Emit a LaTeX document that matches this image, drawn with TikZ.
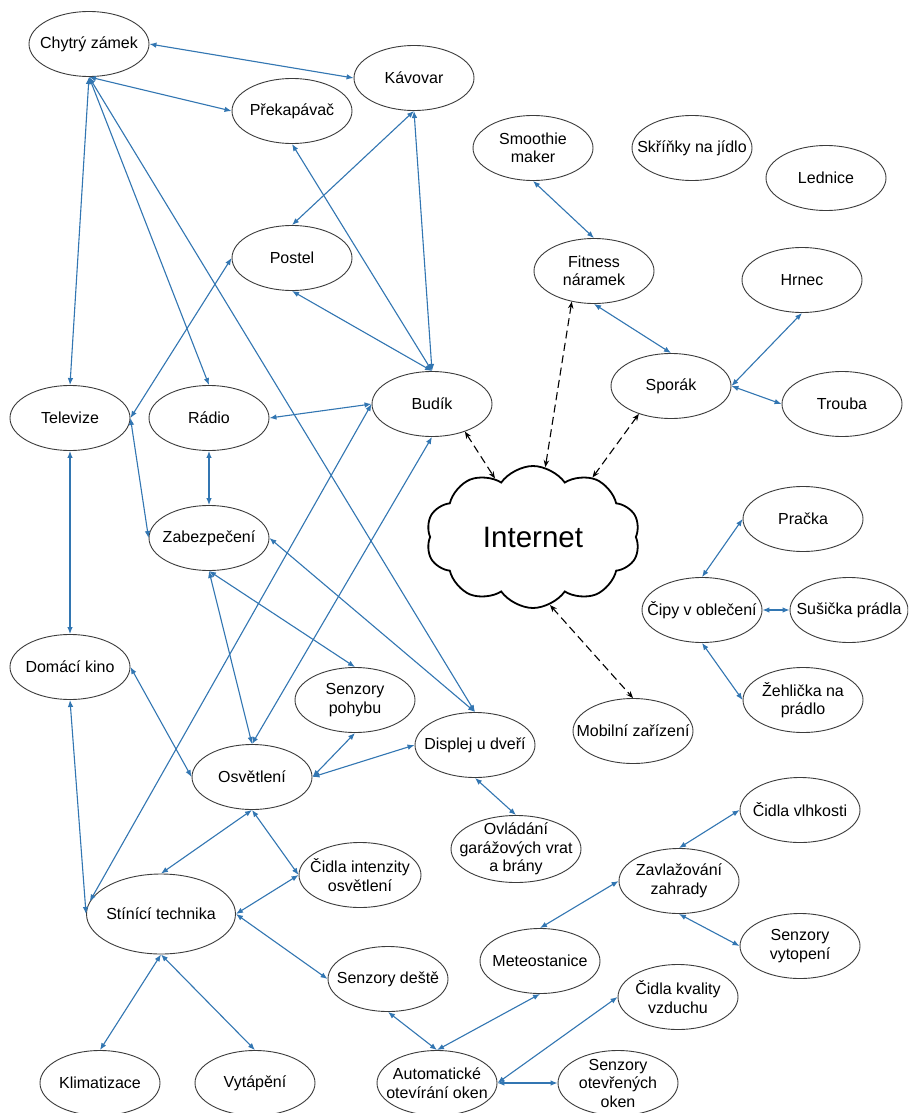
\documentclass[tikz,border=0pt]{standalone}
\usepackage{fontspec}
\setmainfont{Liberation Sans}
\usetikzlibrary{shapes.geometric,shapes.symbols,arrows.meta}
\definecolor{edgeblue}{RGB}{50,118,178}
\definecolor{rim}{RGB}{60,60,60}
\newcommand\lbf{\fontsize{16}{18.5}\selectfont}
\begin{document}
\begin{tikzpicture}[x=1pt,y=-1pt,
  dev/.style={ellipse, draw=rim, line width=0.9pt, minimum width=120pt, minimum height=65pt, inner sep=0pt},
  lab/.style={align=center, inner sep=0pt, font=\lbf},
  con/.style={draw=edgeblue, line width=1.1pt, {Latex[length=7pt,width=5.5pt]}-{Latex[length=7pt,width=5.5pt]}},
  net/.style={draw=black, line width=1.1pt, dash pattern=on 8pt off 4.5pt, {Stealth[length=7pt,width=5.5pt]}-{Stealth[length=7pt,width=5.5pt]}}]
\useasboundingbox (0,0) rectangle (908,1113);
\clip (0,0) rectangle (908,1113);
\fill[white] (0,0) rectangle (908,1113);

% nodes
\node[dev, label={[lab]center:{Chytrý zámek}}] (chz) at (89,44) {};
\node[dev, label={[lab]center:{Kávovar}}] (kav) at (414,78) {};
\node[dev, label={[lab]center:{Překapávač}}] (prek) at (292,111) {};
\node[dev, label={[lab]center:{Postel}}] (post) at (292,258) {};
\node[dev, label={[lab]center:{Televize}}] (tv) at (70,418) {};
\node[dev, label={[lab]center:{Rádio}}] (rad) at (209,418) {};
\node[dev, label={[lab]center:{Budík}}] (bud) at (432,404) {};
\node[dev, label={[lab]center:{Zabezpečení}}] (zab) at (209,538) {};
\node[dev, label={[lab]center:{Domácí kino}}] (dk) at (70,667) {};
\node[dev, label={[lab]center:{Senzory\\pohybu}}] (sp) at (355,700) {};
\node[dev, label={[lab]center:{Osvětlení}}] (osv) at (252,777) {};
\node[dev, label={[lab]center:{Displej u dveří}}] (disp) at (475,745) {};
\node[dev, minimum width=130pt, minimum height=67pt, label={[lab]center:{Ovládání\\garážových vrat\\a brány}}] (ovl) at (516,849) {};
\node[dev, minimum width=122pt, label={[lab]center:{Čidla intenzity\\osvětlení}}] (cid) at (360,875) {};
\node[dev, minimum width=149pt, minimum height=80pt, label={[lab]center:{Stínící technika}}] (sti) at (161,914) {};
\node[dev, label={[lab]center:{Senzory deště}}] (sd) at (388,979) {};
\node[dev, label={[lab]center:{Meteostanice}}] (met) at (540,961) {};
\node[dev, label={[lab]center:{Klimatizace}}] (kli) at (100,1083) {};
\node[dev, label={[lab]center:{Vytápění}}] (vyt) at (255,1083) {};
\node[dev, label={[lab]center:{Automatické\\otevírání oken}}] (aut) at (437,1083) {};
\node[dev, label={[lab]center:{Senzory\\otevřených\\oken}}] (sook) at (618,1083) {};
\node[dev, label={[lab]center:{Čidla kvality\\vzduchu}}] (kval) at (678,997) {};
\node[dev, label={[lab]center:{Zavlažování\\zahrady}}] (zav) at (679,881) {};
\node[dev, label={[lab]center:{Senzory\\vytopení}}] (vyto) at (800,946) {};
\node[dev, label={[lab]center:{Čidla vlhkosti}}] (vlh) at (800,810) {};
\node[dev, label={[lab]center:{Smoothie\\maker}}] (smo) at (533,148) {};
\node[dev, label={[lab]center:{Skříňky na jídlo}}] (skr) at (692,148) {};
\node[dev, label={[lab]center:{Lednice}}] (led) at (826,178) {};
\node[dev, label={[lab]center:{Fitness\\náramek}}] (fit) at (594,271) {};
\node[dev, label={[lab]center:{Hrnec}}] (hrn) at (802,280) {};
\node[dev, label={[lab]center:{Sporák}}] (spo) at (671,386) {};
\node[dev, label={[lab]center:{Trouba}}] (tro) at (842,404) {};
\node[dev, label={[lab]center:{Pračka}}] (pra) at (803,519) {};
\node[dev, label={[lab]center:{Čipy v oblečení}}] (cip) at (702,610) {};
\node[dev, minimum width=118pt, label={[lab]center:{Sušička prádla}}] (sus) at (849,610) {};
\node[dev, label={[lab]center:{Žehlička na\\prádlo}}] (zeh) at (803,700) {};
\node[dev, label={[lab]center:{Mobilní zařízení}}] (mob) at (633,731) {};
\node[cloud, cloud puffs=10, cloud puff arc=110, aspect=1.5, draw=black, line width=1.8pt,
      minimum width=214pt, minimum height=142pt, inner sep=0pt,
      label={[inner sep=0pt, font=\fontsize{29.5}{32}\selectfont]center:{Internet}}] (inet) at (533,537) {};

% blue connectors
\draw[con] (chz.east) -- (kav.west);
\draw[con] (chz.south) -- (prek.west);
\draw[con] (chz.south) -- (tv.north);
\draw[con] (chz.south) -- (rad.north);
\draw[con] (chz.south) -- (disp.north);
\draw[con] (kav.south) -- (post.north);
\draw[con] (kav.south) -- (bud.north);
\draw[con] (prek.south) -- (bud.north);
\draw[con] (post.south) -- (bud.north);
\draw[con] (post.west) -- (tv.east);
\draw[con] (bud.west) -- (rad.east);
\draw[con] (rad.south) -- (zab.north);
\draw[con] (tv.south) -- (dk.north);
\draw[con] (tv.east) -- (zab.west);
\draw[con] (zab.east) -- (disp.north);
\draw[con] (dk.east) -- (osv.west);
\draw[con] (dk.south) -- (sti.west);
\draw[con] (sti.170) -- (bud.west);
\draw[con] (bud.south) -- (osv.north);
\draw[con] (zab.south) -- (osv.north);
\draw[con] (zab.south) -- (sp.north);
\draw[con] (osv.east) -- (sp.south);
\draw[con] (osv.east) -- (disp.west);
\draw[con] (disp.south) -- (ovl.north);
\draw[con] (osv.south) -- (sti.north);
\draw[con] (osv.south) -- (cid.west);
\draw[con] (cid.west) -- (sti.east);
\draw[con] (sti.east) -- (sd.west);
\draw[con] (sti.south) -- (kli.north);
\draw[con] (sti.south) -- (vyt.north);
\draw[con] (sd.south) -- (aut.north);
\draw[con] (met.south) -- (aut.north);
\draw[con] (met.north) -- (zav.west);
\draw[con] (zav.north) -- (vlh.west);
\draw[con] (zav.south) -- (vyto.west);
\draw[con] (aut.east) -- (kval.west);
\draw[con] (aut.east) -- (sook.west);
\draw[con] (smo.south) -- (fit.north);
\draw[con] (fit.south) -- (spo.north);
\draw[con] (spo.east) -- (hrn.south);
\draw[con] (spo.east) -- (tro.west);
\draw[con] (cip.north) -- (pra.west);
\draw[con] (cip.east) -- (sus.west);
\draw[con] (cip.south) -- (zeh.west);

% dashed internet links
\draw[net] (bud.-40) -- (inet.123);
\draw[net] (fit.-126) -- (inet.80);
\draw[net] (spo.-139) -- (inet.45);
\draw[net] (inet.-76) -- (mob.north);
\end{tikzpicture}
\end{document}
